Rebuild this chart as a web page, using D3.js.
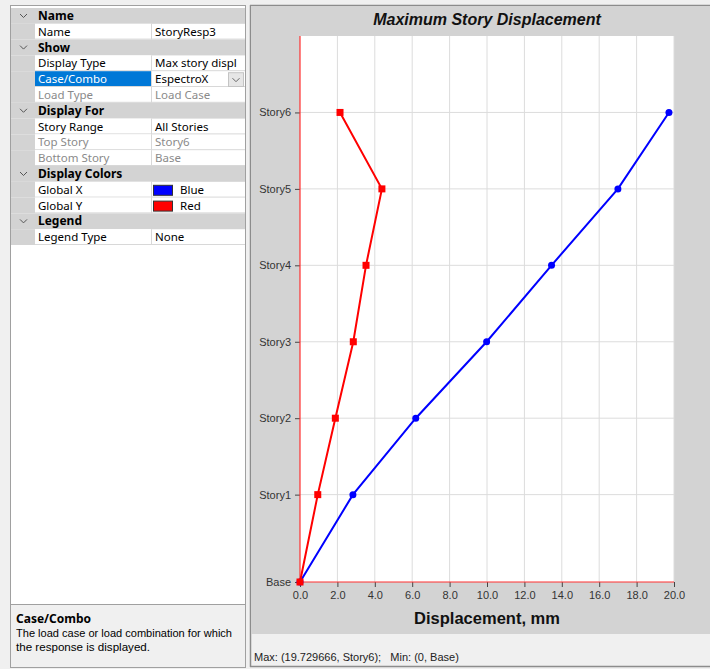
<!DOCTYPE html>
<html><head><meta charset="utf-8">
<script src="https://cdn.jsdelivr.net/npm/d3@7"></script>
<style>
html,body{margin:0;padding:0;background:#f0f0f0;}
svg{display:block;}
</style></head>
<body>
<script>
// ---- data ----
const stories = ["Base","Story1","Story2","Story3","Story4","Story5","Story6"];
const elevations = [0, 4, 7.5, 11, 14.5, 18, 21.5];
const dispGlobalX = [0, 2.83, 6.19, 9.98, 13.45, 17.0, 19.73];
const dispGlobalY = [0, 0.95, 1.89, 2.85, 3.53, 4.38, 2.14];
const xTicks = [0, 2, 4, 6, 8, 10, 12, 14, 16, 18, 20];
const chartTitle = "Maximum Story Displacement";
const xTitle = "Displacement, mm";
const statusText = "Max: (19.729666, Story6);   Min: (0, Base)";

// property grid rows: [kind, name, value, flag]
const gridRows = [
  ["h","Name"],
  ["r","Name","StoryResp3",""],
  ["h","Show"],
  ["r","Display Type","Max story displ",""],
  ["r","Case/Combo","EspectroX","sel"],
  ["r","Load Type","Load Case","dis"],
  ["h","Display For"],
  ["r","Story Range","All Stories",""],
  ["r","Top Story","Story6","dis"],
  ["r","Bottom Story","Base","dis"],
  ["h","Display Colors"],
  ["r","Global X","Blue","blue"],
  ["r","Global Y","Red","red"],
  ["h","Legend"],
  ["r","Legend Type","None",""]
];
const helpTitle = "Case/Combo";
const helpLines = ["The load case or load combination for which","the response is displayed."];

const W = 710, H = 669;
const svg = d3.select("body").append("svg").attr("width", W).attr("height", H);
const uiFont = "'Noto Sans','DejaVu Sans',sans-serif";
const chFont = "'Liberation Sans',Arial,sans-serif";

svg.append("rect").attr("width", W).attr("height", H).attr("fill", "#f0f0f0");

// ---- left property panel ----
const pL = 10, pT = 5, pR = 245, pB = 667;
svg.append("rect").attr("x", pL + 0.5).attr("y", pT + 0.5).attr("width", pR - pL).attr("height", pB - pT)
  .attr("fill", "#ffffff").attr("stroke", "#a0a0a0");
const rowH = 15.8, row0 = 8, expW = 25, nameR = 151;
const g = svg.append("g");
gridRows.forEach((r, i) => {
  const y = row0 + i * rowH;
  if (r[0] === "h") {
    g.append("rect").attr("x", pL + 1).attr("y", y).attr("width", pR - pL - 1).attr("height", rowH).attr("fill", "#d3d3d3");
    g.append("path").attr("d", `M${pL+10},${y+6} l3.5,3.5 l3.5,-3.5`).attr("fill", "none").attr("stroke", "#555").attr("stroke-width", 1);
    g.append("text").attr("x", pL + expW + 3).attr("y", y + rowH / 2 + 4).attr("font-family", uiFont)
      .attr("font-size", 12).attr("font-weight", "bold").attr("fill", "#000").text(r[1]);
  } else {
    g.append("rect").attr("x", pL + 1).attr("y", y).attr("width", expW - 1).attr("height", rowH).attr("fill", "#d3d3d3");
    const sel = r[3] === "sel", dis = r[3] === "dis";
    g.append("rect").attr("x", pL + expW).attr("y", y).attr("width", nameR - pL - expW).attr("height", rowH)
      .attr("fill", sel ? "#0078d7" : "#ffffff");
    g.append("line").attr("x1", pL + expW).attr("x2", pR).attr("y1", y + rowH - 0.5).attr("y2", y + rowH - 0.5).attr("stroke", "#d8d8d8");
    g.append("line").attr("x1", nameR + 0.5).attr("x2", nameR + 0.5).attr("y1", y).attr("y2", y + rowH).attr("stroke", "#d8d8d8");
    g.append("text").attr("x", pL + expW + 3).attr("y", y + rowH / 2 + 4).attr("font-family", uiFont).attr("font-size", 11.5)
      .attr("fill", sel ? "#fff" : dis ? "#8a8a8a" : "#000").text(r[1]);
    let vx = nameR + 4;
    if (r[3] === "blue" || r[3] === "red") {
      g.append("rect").attr("x", nameR + 2.5).attr("y", y + 3.5).attr("width", 19).attr("height", 10)
        .attr("fill", r[3] === "blue" ? "#0000ff" : "#ff0000").attr("stroke", "#333");
      vx = nameR + 29;
    }
    g.append("text").attr("x", vx).attr("y", y + rowH / 2 + 4).attr("font-family", uiFont).attr("font-size", 11.5)
      .attr("fill", dis ? "#8a8a8a" : "#000").text(r[2]);
    if (sel) {
      g.append("rect").attr("x", 228.5).attr("y", y + 1.5).attr("width", 15).attr("height", rowH - 2).attr("fill", "#e6e6e6").attr("stroke", "#c4c4c4");
      g.append("path").attr("d", `M${232.5},${y+7} l3.5,3.5 l3.5,-3.5`).attr("fill", "none").attr("stroke", "#666");
    }
  }
});
// help panel
const hT = 604;
svg.append("rect").attr("x", pL + 1).attr("y", hT).attr("width", pR - pL - 1).attr("height", pB - hT)
  .attr("fill", "#f0f0f0");
svg.append("line").attr("x1", pL).attr("x2", pR).attr("y1", hT + 0.5).attr("y2", hT + 0.5).attr("stroke", "#a0a0a0");
svg.append("text").attr("x", 16).attr("y", 623).attr("font-family", uiFont).attr("font-size", 12).attr("font-weight", "bold").text(helpTitle);
const helpW = [216, 134];
helpLines.forEach((t, i) => svg.append("text").attr("x", 16).attr("y", 637 + i * 13.5).attr("font-family", chFont)
  .attr("font-size", 11.5).attr("fill", "#000").attr("textLength", helpW[i]).attr("lengthAdjust", "spacingAndGlyphs").text(t));

// ---- chart panel ----
const cL = 250, cT = 5;
svg.append("rect").attr("x", cL + 1).attr("y", 634).attr("width", W - cL).attr("height", 32).attr("fill", "#f0f0f0");
svg.append("line").attr("x1", cL + 0.5).attr("x2", cL + 0.5).attr("y1", cT).attr("y2", 667).attr("stroke", "#8c8c8c").attr("stroke-width", 1.5);
svg.append("line").attr("x1", cL).attr("x2", W).attr("y1", cT + 0.5).attr("y2", cT + 0.5).attr("stroke", "#8c8c8c").attr("stroke-width", 1.5);
svg.append("line").attr("x1", cL).attr("x2", W).attr("y1", 666.5).attr("y2", 666.5).attr("stroke", "#8c8c8c").attr("stroke-width", 1.5);
svg.append("rect").attr("x", cL + 1).attr("y", 6).attr("width", W - cL).attr("height", 628).attr("fill", "#d3d3d3");

const plotL = 300, plotR = 674, plotT = 36, plotB = 582;
const x = d3.scaleLinear().domain([0, 20]).range([plotL, plotR]);
const y = d3.scaleLinear().domain([0, 25]).range([plotB, plotT]);

svg.append("rect").attr("x", plotL).attr("y", plotT).attr("width", plotR - plotL).attr("height", plotB - plotT).attr("fill", "#fff");
// grid
svg.append("g").selectAll("line").data(xTicks.slice(1)).join("line")
  .attr("x1", d => x(d)).attr("x2", d => x(d)).attr("y1", plotT).attr("y2", plotB).attr("stroke", "#dcdcdc");
svg.append("g").selectAll("line").data(elevations.slice(1)).join("line")
  .attr("x1", plotL).attr("x2", plotR).attr("y1", d => y(d)).attr("y2", d => y(d)).attr("stroke", "#dcdcdc");

// axes
const xAxis = svg.append("g").attr("transform", `translate(0,${plotB})`)
  .call(d3.axisBottom(x).tickValues(xTicks).tickSize(5).tickPadding(4).tickFormat(d3.format(".1f")));
const yAxis = svg.append("g").attr("transform", `translate(${plotL},0)`)
  .call(d3.axisLeft(y).tickValues(elevations).tickSize(5).tickPadding(4).tickFormat((d, i) => stories[i]));
[xAxis, yAxis].forEach(a => {
  a.select(".domain").remove();
  a.selectAll(".tick line").attr("stroke", "#444");
  a.selectAll(".tick text").attr("font-family", chFont).attr("font-size", 11).attr("fill", "#333");
});
svg.append("line").attr("x1", plotL).attr("x2", plotL).attr("y1", plotT).attr("y2", plotB).attr("stroke", "#ff3030").attr("stroke-width", 1.2);
svg.append("line").attr("x1", plotL).attr("x2", plotR).attr("y1", plotB).attr("y2", plotB).attr("stroke", "#ff3030").attr("stroke-width", 1.2);

// series
const seriesX = elevations.map((e, i) => ({v: dispGlobalX[i], e}));
const seriesY = elevations.map((e, i) => ({v: dispGlobalY[i], e}));
const line = d3.line().x(d => x(d.v)).y(d => y(d.e));
svg.append("path").datum(seriesX).attr("d", line).attr("fill", "none").attr("stroke", "#0000ff").attr("stroke-width", 2);
svg.append("g").selectAll("circle").data(seriesX).join("circle")
  .attr("cx", d => x(d.v)).attr("cy", d => y(d.e)).attr("r", 3.5).attr("fill", "#0000ff");
svg.append("path").datum(seriesY).attr("d", line).attr("fill", "none").attr("stroke", "#ff0000").attr("stroke-width", 2);
svg.append("g").selectAll("rect").data(seriesY).join("rect")
  .attr("x", d => x(d.v) - 3.5).attr("y", d => y(d.e) - 3.5).attr("width", 7).attr("height", 7).attr("fill", "#ff0000");

// titles
svg.append("text").attr("x", (plotL + plotR) / 2).attr("y", 25).attr("text-anchor", "middle")
  .attr("font-family", chFont).attr("font-size", 16).attr("font-weight", "bold").attr("font-style", "italic").attr("fill", "#111").text(chartTitle);
svg.append("text").attr("x", (plotL + plotR) / 2).attr("y", 624).attr("text-anchor", "middle")
  .attr("font-family", chFont).attr("font-size", 16.5).attr("font-weight", "bold").attr("fill", "#111").text(xTitle);
svg.append("text").attr("x", 254).attr("y", 661).attr("font-family", chFont).attr("font-size", 11)
  .attr("fill", "#222").style("white-space", "pre").text(statusText);
</script>
</body></html>
